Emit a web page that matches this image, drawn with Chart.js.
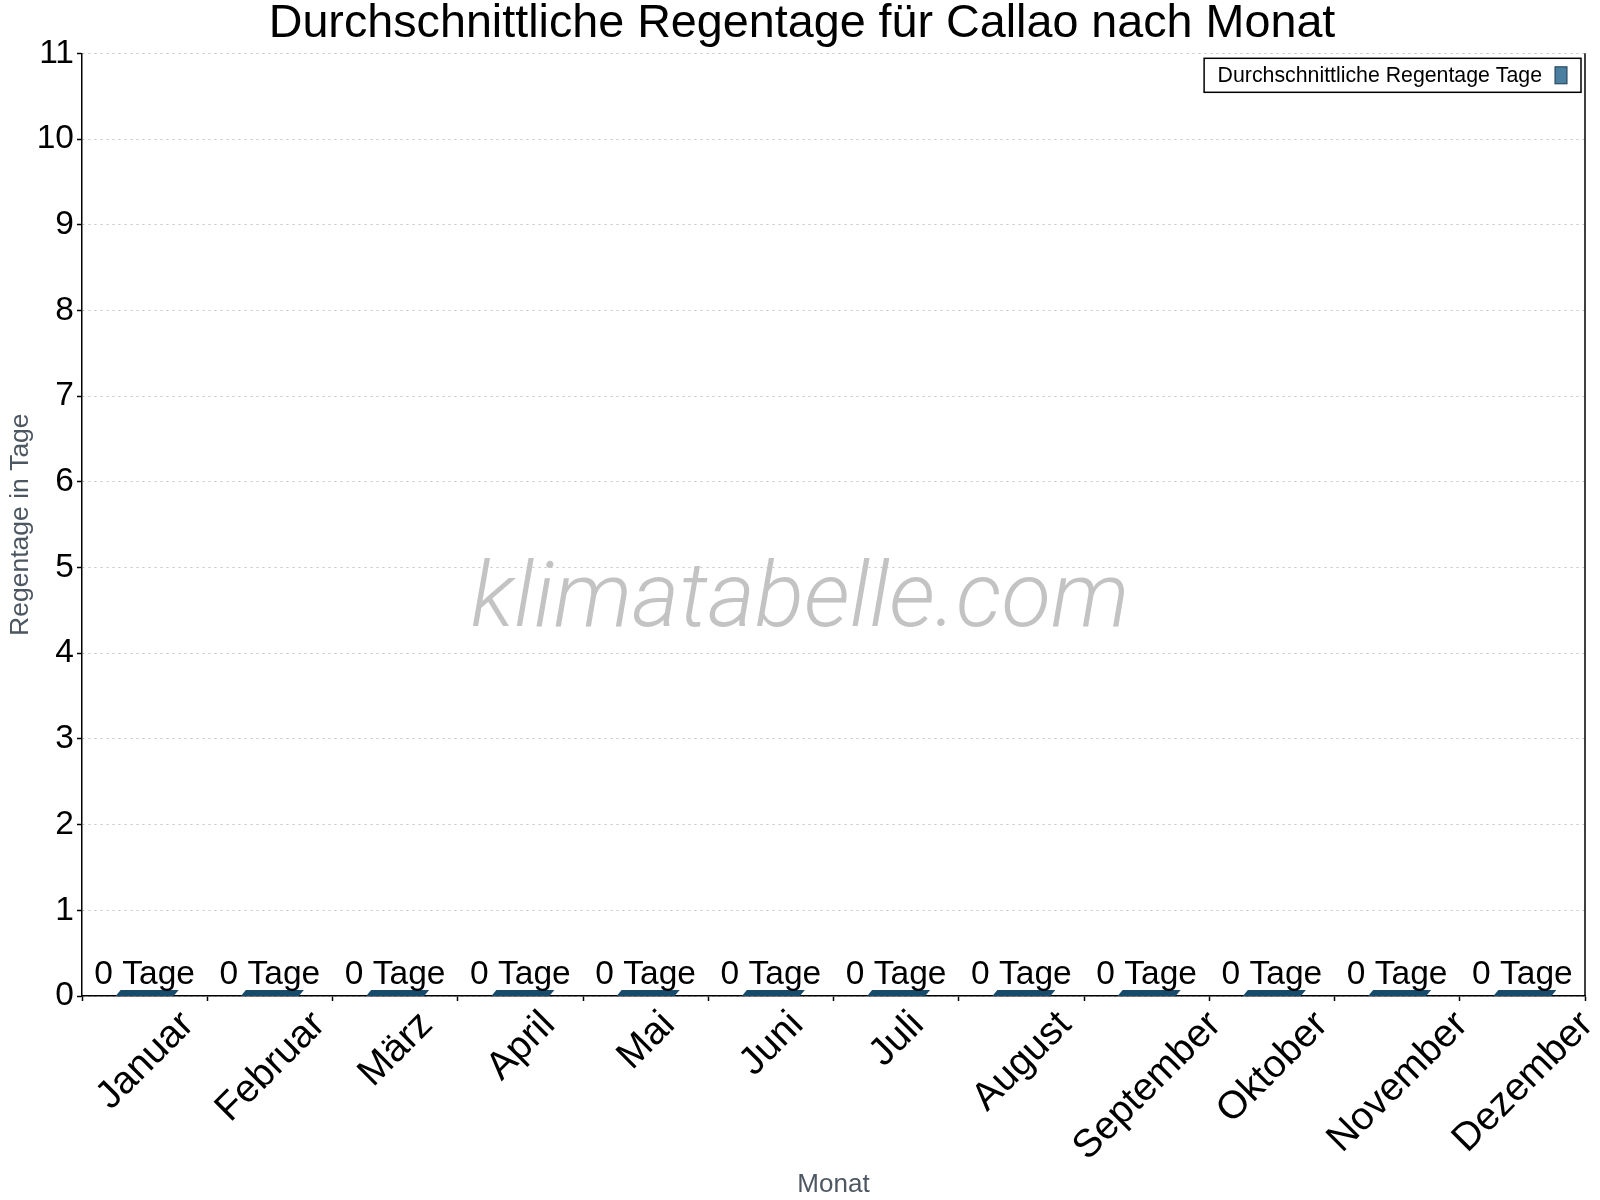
<!DOCTYPE html>
<html>
<head>
<meta charset="utf-8">
<script src="https://cdn.jsdelivr.net/npm/chart.js@4.4.0/dist/chart.umd.min.js"></script>
<style>
html,body{margin:0;padding:0;background:#fff;}
#wrap{width:1600px;height:1200px;}
</style>
</head>
<body>
<div id="wrap"><canvas id="c" width="1600" height="1200"></canvas></div>
<script>
// ---- data ----
const months = ['Januar','Februar','März','April','Mai','Juni','Juli','August','September','Oktober','November','Dezember'];
const rainDays = [0,0,0,0,0,0,0,0,0,0,0,0];
const valueUnit = 'Tage';
const yMin = 0;
const yMax = 11;
const yStep = 1;
const titleText = 'Durchschnittliche Regentage für Callao nach Monat';
const seriesLabel = 'Durchschnittliche Regentage Tage';
const xTitle = 'Monat';
const yTitle = 'Regentage in Tage';
const watermarkText = 'klimatabelle.com';

const FONT = "'Liberation Sans', Arial, Helvetica, sans-serif";
const BAR_COLOR = '#184b6b';
const SWATCH_COLOR = '#4a7fa0';

const titleShiftPlugin = {
  id: 'titleShift',
  afterLayout(chart) {
    const tb = chart.titleBlock;
    if (tb) { tb.left = 19; tb.right = 1585; }
  }
};

const watermarkPlugin = {
  id: 'watermark',
  beforeDatasetsDraw(chart) {
    const ctx = chart.ctx;
    ctx.save();
    ctx.font = "italic 300 91px Roboto, 'Liberation Sans', sans-serif";
    ctx.fillStyle = '#c3c3c3';
    ctx.textAlign = 'center';
    ctx.textBaseline = 'alphabetic';
    ctx.fillText(watermarkText, chart.width / 2, 626);
    ctx.restore();
  }
};

const barsPlugin = {
  id: 'flatBars',
  afterDatasetsDraw(chart) {
    const ctx = chart.ctx;
    const meta = chart.getDatasetMeta(0);
    ctx.save();
    meta.data.forEach((bar, i) => {
      const w = bar.width;
      const x0 = bar.x - w / 2;
      const yb = bar.base;
      const yt = Math.min(bar.y, yb) - 6;
      ctx.fillStyle = BAR_COLOR;
      ctx.beginPath();
      ctx.moveTo(x0, yb);
      ctx.lineTo(x0 + w, yb);
      ctx.lineTo(x0 + w + 5, yt);
      ctx.lineTo(x0 + 5, yt);
      ctx.closePath();
      ctx.fill();
      ctx.fillStyle = '#000';
      ctx.font = '33.5px ' + FONT;
      ctx.textAlign = 'center';
      ctx.textBaseline = 'alphabetic';
      ctx.fillText(rainDays[i] + ' ' + valueUnit, bar.x, yt - 6);
    });
    ctx.restore();
  }
};

const decorPlugin = {
  id: 'decor',
  afterDraw(chart) {
    const ctx = chart.ctx;
    const area = chart.chartArea;
    const xs = chart.scales.x;
    ctx.save();
    // right frame line
    ctx.strokeStyle = '#000';
    ctx.lineWidth = 1.5;
    ctx.beginPath();
    ctx.moveTo(area.right, area.top);
    ctx.lineTo(area.right, area.bottom);
    ctx.stroke();
    // rotated month labels
    const fs = 39;
    ctx.font = fs + 'px ' + FONT;
    ctx.fillStyle = '#000';
    ctx.textAlign = 'center';
    ctx.textBaseline = 'middle';
    months.forEach((m, i) => {
      const x = xs.getPixelForValue(i);
      const w = ctx.measureText(m).width;
      const cy = xs.top + 9 + (w + fs) / (2 * Math.SQRT2);
      ctx.save();
      ctx.translate(x + 1, cy);
      ctx.rotate(-Math.PI / 4);
      ctx.fillText(m, 0, 0);
      ctx.restore();
    });
    // legend
    ctx.font = '21.3px ' + FONT;
    const tw = ctx.measureText(seriesLabel).width;
    const bw = 13.5 + tw + 13 + 12 + 14;
    const bh = 34;
    const right = area.right - 4;
    const top = area.top + 5;
    const left = right - bw;
    ctx.fillStyle = '#fff';
    ctx.fillRect(left, top, bw, bh);
    ctx.strokeStyle = '#000';
    ctx.lineWidth = 1.5;
    ctx.strokeRect(left, top, bw, bh);
    ctx.fillStyle = '#000';
    ctx.textAlign = 'left';
    ctx.textBaseline = 'middle';
    ctx.fillText(seriesLabel, left + 13.5, top + bh / 2 + 1);
    const sx = left + 13.5 + tw + 13;
    ctx.fillStyle = SWATCH_COLOR;
    ctx.fillRect(sx, top + 8.5, 12, 17);
    ctx.strokeStyle = '#1d3b52';
    ctx.lineWidth = 1;
    ctx.strokeRect(sx, top + 8.5, 12, 17);
    ctx.restore();
  }
};

function build() {
  new Chart(document.getElementById('c'), {
    type: 'bar',
    data: {
      labels: months,
      datasets: [{
        label: seriesLabel,
        data: rainDays,
        backgroundColor: SWATCH_COLOR,
        borderWidth: 0,
        categoryPercentage: 1,
        barPercentage: 0.463
      }]
    },
    options: {
      responsive: false,
      devicePixelRatio: 1,
      animation: false,
      layout: { padding: { left: 0, right: 15, top: 0, bottom: 0 } },
      plugins: {
        legend: { display: false },
        tooltip: { enabled: false },
        title: {
          display: true,
          text: titleText,
          color: '#000',
          font: { family: FONT, size: 46.7, weight: 'normal', lineHeight: 1 },
          padding: { top: 1, bottom: 5.6 }
        }
      },
      scales: {
        x: {
          type: 'category',
          offset: true,
          grid: { display: true, drawOnChartArea: false, offset: true, tickLength: 5, tickColor: '#000', tickWidth: 1.5 },
          border: { display: true, color: '#000', width: 1.5 },
          ticks: { display: false },
          title: { display: true, text: xTitle, color: '#4d5761', font: { family: FONT, size: 26 }, padding: { top: 0, bottom: 0 } },
          afterFit(s) { s.height = 204; }
        },
        y: {
          min: yMin,
          max: yMax,
          ticks: { stepSize: yStep, color: '#000', font: { family: FONT, size: 33.5 }, padding: 3 },
          grid: { color: '#c4c4c4', lineWidth: 1, tickLength: 5, tickColor: '#000', tickWidth: 1.5, tickBorderDash: [] },
          border: { display: true, color: '#000', width: 1.5, dash: [2, 4] },
          title: { display: true, text: yTitle, color: '#4d5761', font: { family: FONT, size: 26.5 }, padding: { top: 5, bottom: 0 } },
          afterFit(s) { s.width = 82; }
        }
      }
    },
    plugins: [titleShiftPlugin, watermarkPlugin, barsPlugin, decorPlugin]
  });
}

const fontLoads = [
  document.fonts.load("italic 300 91px Roboto"),
  document.fonts.load("32px 'Liberation Sans'")
];
Promise.all(fontLoads).then(build, build);
</script>
</body>
</html>
